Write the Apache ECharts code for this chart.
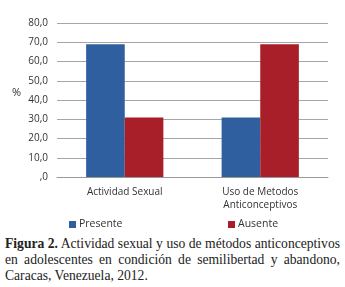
<!DOCTYPE html>
<html>
<head>
<meta charset="utf-8">
<script src="https://cdn.jsdelivr.net/npm/echarts@6/dist/echarts.min.js"></script>
<style>
  html, body { margin: 0; padding: 0; background: #fff; }
  #chart { position: absolute; left: 0; top: 0; width: 345px; height: 232px; }
  .caption {
    position: absolute; left: 5px; top: 236px; width: 335px;
    font-family: "Liberation Serif", "DejaVu Serif", serif;
    font-size: 13.6px; line-height: 16px; color: #222;
    text-align: justify;
  }
</style>
</head>
<body>
<div id="chart"></div>
<div class="caption"><b>Figura 2.</b> Actividad sexual y uso de métodos anticonceptivos en adolescentes en condición de semilibertad y abandono, Caracas, Venezuela, 2012.</div>
<script>
const categories = ['Actividad Sexual', 'Uso de Metodos\nAnticonceptivos']
const presente = [69.0, 30.9]
const ausente = [30.9, 69.0]
const yTicks = { min: 0, max: 80, interval: 10 }

const chart = echarts.init(document.getElementById('chart'))
const labelFont = { fontFamily: 'Open Sans, Liberation Sans, sans-serif', fontSize: 10, color: '#333' }

chart.setOption({
  animation: false,
  grid: { left: 57, right: 17, top: 23, bottom: 55 },
  legend: [
    {
      data: ['Presente'], left: 64, top: 214, itemWidth: 7, itemHeight: 7, itemGap: 4,
      icon: 'rect', textStyle: Object.assign({}, labelFont, { fontSize: 10.5, padding: [0, 0, 0, -2] })
    },
    {
      data: ['Ausente'], left: 223, top: 214, itemWidth: 7, itemHeight: 7, itemGap: 4,
      icon: 'rect', textStyle: Object.assign({}, labelFont, { fontSize: 10.5, padding: [0, 0, 0, -2] })
    }
  ],
  graphic: [{
    type: 'text', left: 12, top: 87,
    style: { text: '%', font: '11px Open Sans, sans-serif', fill: '#333' }
  }],
  xAxis: {
    type: 'category',
    data: categories,
    axisLine: { lineStyle: { color: '#999' } },
    axisTick: { show: false },
    axisLabel: Object.assign({}, labelFont, { margin: 9, lineHeight: 13 })
  },
  yAxis: {
    type: 'value',
    min: yTicks.min,
    max: yTicks.max,
    interval: yTicks.interval,
    axisLine: { show: false },
    axisTick: { show: false },
    splitLine: { lineStyle: { color: '#a6a6a6' } },
    axisLabel: Object.assign({}, labelFont, {
      margin: 9,
      formatter: v => v === 0 ? ',0' : v.toFixed(1).replace('.', ',')
    })
  },
  series: [
    {
      name: 'Presente', type: 'bar', data: presente,
      barGap: '0%', barCategoryGap: '43%',
      itemStyle: { color: '#2f5f9f' }
    },
    {
      name: 'Ausente', type: 'bar', data: ausente,
      itemStyle: { color: '#a81e29' }
    }
  ]
})
</script>
</body>
</html>
